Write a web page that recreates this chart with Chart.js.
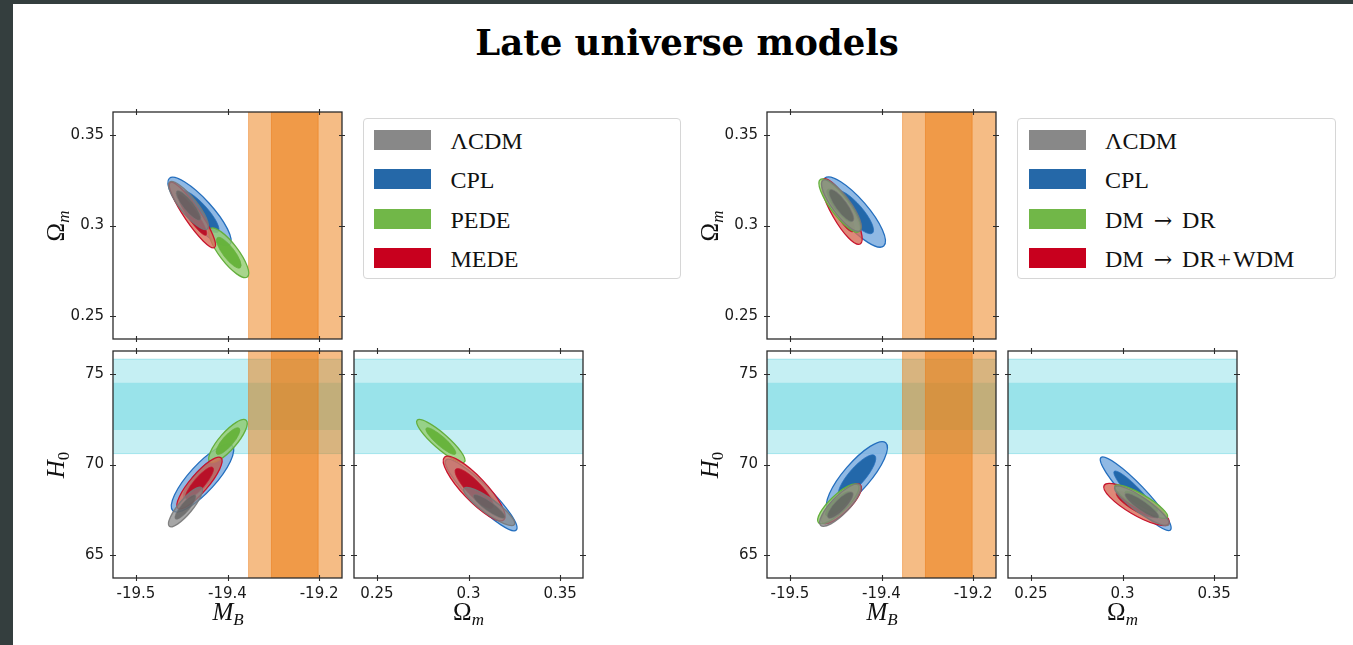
<!DOCTYPE html>
<html><head><meta charset="utf-8">
<script src="https://cdn.jsdelivr.net/npm/chart.js@4.4.1/dist/chart.umd.min.js"></script>
<style>
body{margin:0;width:1353px;height:645px;background:#343e3e;overflow:hidden;position:relative}
#page{position:absolute;left:13px;top:4px;width:1340px;height:641px;background:#fff}
canvas{position:absolute}
.t{position:absolute;white-space:nowrap;color:#111}
#title{left:687px;top:23px;transform:translateX(-50%);font:bold 35.5px 'DejaVu Serif';line-height:40px;color:#000}
.ax{font:25px 'Liberation Serif';line-height:26px;transform:translate(-50%,-50%)}
.ay{font:25px 'Liberation Serif';line-height:26px;transform:translate(-50%,-50%) rotate(-90deg)}
.ax sub,.ay sub{font-size:17px;vertical-align:-5px}
.leg{position:absolute;border:1px solid #d6d6d6;border-radius:4px;background:#fff;box-sizing:border-box}
.patch{position:absolute;width:57px;height:20px}
.lt{position:absolute;font:24px 'Liberation Serif';line-height:20px;color:#111;white-space:nowrap}
.arr{font-family:'DejaVu Serif';font-size:22px;margin:0 4px}
.pl{margin:0 2px}
</style></head><body>
<div id="page"></div>
<div id="title" class="t">Late universe models</div>
<script>
// ---------------- data ----------------
const MODELS_LEFT  = ['ΛCDM', 'CPL', 'PEDE', 'MEDE'];
const MODELS_RIGHT = ['ΛCDM', 'CPL', 'DM → DR', 'DM → DR+WDM'];

const MB_TICKS = [-19.5, -19.4, -19.3];
const MB_TICK_LABELS = ['-19.5', '-19.4', '-19.2'];
const OM_TICKS = [0.25, 0.3, 0.35];
const OM_TICK_LABELS = ['0.25', '0.3', '0.35'];
const H0_TICKS = [65, 70, 75];
const H0_TICK_LABELS = ['65', '70', '75'];

const MB_RANGE = [-19.525, -19.275];
const OM_RANGE = [0.2375, 0.3625];
const H0_RANGE = [63.75, 76.25];

// external priors (bands): 1-sigma and 2-sigma intervals
const MB_BAND_1S = [-19.352, -19.301];
const MB_BAND_2S = [-19.377, -19.25];
const H0_BAND_1S = [71.9, 74.5];
const H0_BAND_2S = [70.6, 75.8];

// contours: [meanX, meanY, sigmaX, sigmaY, correlation], one row per model (order of MODELS_*)
const LEFT_MB_OM = [
  [-19.4426, 0.3110, 0.0089, 0.0054, -0.85],
  [-19.4306, 0.3077, 0.0141, 0.0077, -0.85],
  [-19.3986, 0.2850, 0.0089, 0.0056, -0.82],
  [-19.4383, 0.3058, 0.0103, 0.0074, -0.91]
];
const LEFT_MB_H0 = [
  [-19.4459, 67.66, 0.0076, 0.447, 0.85],
  [-19.4273, 69.25, 0.0139, 0.761, 0.83],
  [-19.3995, 71.29, 0.0086, 0.485, 0.82],
  [-19.4306, 68.98, 0.0101, 0.582, 0.86]
];
const LEFT_OM_H0 = [
  [0.3113, 67.69, 0.0057, 0.430, -0.88],
  [0.3069, 68.32, 0.0080, 0.805, -0.92],
  [0.2849, 71.29, 0.0054, 0.485, -0.89],
  [0.3031, 68.68, 0.0069, 0.727, -0.86]
];
const RIGHT_MB_OM = [
  [-19.4437, 0.3110, 0.0089, 0.0058, -0.83],
  [-19.4297, 0.3074, 0.0139, 0.0079, -0.83],
  [-19.4456, 0.3110, 0.0093, 0.0060, -0.84],
  [-19.4434, 0.3077, 0.0091, 0.0074, -0.83]
];
const RIGHT_MB_H0 = [
  [-19.4450, 67.76, 0.0092, 0.477, 0.82],
  [-19.4268, 69.36, 0.0136, 0.776, 0.83],
  [-19.4472, 67.83, 0.0092, 0.447, 0.82],
  [-19.4437, 67.83, 0.0089, 0.447, 0.81]
];
const RIGHT_OM_H0 = [
  [0.3106, 67.73, 0.0061, 0.447, -0.89],
  [0.3072, 68.39, 0.0079, 0.828, -0.93],
  [0.3102, 67.96, 0.0059, 0.376, -0.88],
  [0.3076, 67.80, 0.0073, 0.474, -0.83]
];

// ---------------- styles ----------------
const MODEL_STYLE = [
  {patch:'rgb(136,136,136)', light:'rgba(133,133,133,0.72)', dark:'rgba(95,95,95,0.75)',  edge:'rgba(120,120,120,0.9)'},
  {patch:'rgb(37,104,168)',  light:'rgba(120,170,222,0.82)', dark:'rgba(30,100,168,0.95)', edge:'rgb(35,110,190)'},
  {patch:'rgb(113,183,72)',  light:'rgba(150,205,115,0.82)', dark:'rgba(100,178,55,0.92)', edge:'rgb(100,175,60)'},
  {patch:'rgb(200,0,30)',    light:'rgba(215,110,90,0.82)',  dark:'rgba(185,10,35,0.92)',  edge:'rgb(200,20,45)'}
];
const AXES = {
  MB:{range:MB_RANGE, ticks:MB_TICKS, labels:MB_TICK_LABELS},
  OM:{range:OM_RANGE, ticks:OM_TICKS, labels:OM_TICK_LABELS},
  H0:{range:H0_RANGE, ticks:H0_TICKS, labels:H0_TICK_LABELS}
};
const LEFT_ORDER = [1, 2, 3, 0];
const RIGHT_ORDER = [1, 3, 2, 0];
const PANELS = [
  {box:[113,112,342,339], x:'MB', y:'OM', data:LEFT_MB_OM, xl:false, yl:true, order:LEFT_ORDER},
  {box:[113,351,342,578], x:'MB', y:'H0', data:LEFT_MB_H0, xl:true,  yl:true, order:LEFT_ORDER},
  {box:[354,351,583,578], x:'OM', y:'H0', data:LEFT_OM_H0, xl:true,  yl:false, order:LEFT_ORDER},
  {box:[767,112,996,339], x:'MB', y:'OM', data:RIGHT_MB_OM, xl:false, yl:true, order:RIGHT_ORDER},
  {box:[767,351,996,578], x:'MB', y:'H0', data:RIGHT_MB_H0, xl:true,  yl:true, order:RIGHT_ORDER},
  {box:[1008,351,1237,578], x:'OM', y:'H0', data:RIGHT_OM_H0, xl:true, yl:false, order:RIGHT_ORDER}
];
const K95 = 2.447, K68 = 1.515;

function ellipsePath(ctx, xs, ys, p, k){
  const [mx, my, sx, sy, r] = p;
  const cx = xs.getPixelForValue(mx), cy = ys.getPixelForValue(my);
  const kx = Math.abs(xs.getPixelForValue(mx + sx) - cx) / sx;
  const ky = Math.abs(ys.getPixelForValue(my + sy) - cy) / sy;
  const a = (sx*kx)**2, c = (sy*ky)**2, b = -r*sx*sy*kx*ky;
  const th = 0.5*Math.atan2(2*b, a - c);
  const d = Math.sqrt(((a-c)/2)**2 + b*b);
  const l1 = (a+c)/2 + d, l2 = Math.max((a+c)/2 - d, 1e-6);
  ctx.beginPath();
  ctx.ellipse(cx, cy, k*Math.sqrt(l1), k*Math.sqrt(l2), th, 0, 2*Math.PI);
}

const cornerPlugin = {
  id:'corner',
  beforeDatasetsDraw(chart){
    const {ctx, chartArea:A, scales:{x, y}} = chart;
    const P = chart.options.plugins.corner;
    ctx.save();
    ctx.beginPath(); ctx.rect(A.left, A.top, A.width, A.height); ctx.clip();
    if (P.y === 'H0'){
      [H0_BAND_2S, H0_BAND_1S].forEach((b, i) => {
        const y1 = y.getPixelForValue(b[1]), y2 = y.getPixelForValue(b[0]);
        ctx.fillStyle = 'rgba(23,190,207,0.25)';
        ctx.fillRect(A.left, y1, A.width, y2 - y1);
        if (i === 0){
          ctx.strokeStyle = 'rgba(23,190,207,0.3)'; ctx.lineWidth = 1;
          ctx.beginPath(); ctx.moveTo(A.left, y1); ctx.lineTo(A.right, y1);
          ctx.moveTo(A.left, y2); ctx.lineTo(A.right, y2); ctx.stroke();
        }
      });
    }
    if (P.x === 'MB'){
      [MB_BAND_2S, MB_BAND_1S].forEach((b, i) => {
        const x1 = x.getPixelForValue(b[0]), x2 = x.getPixelForValue(b[1]);
        ctx.fillStyle = 'rgba(236,122,12,0.5)';
        ctx.fillRect(x1, A.top, x2 - x1, A.height);
        ctx.strokeStyle = 'rgba(236,115,10,0.45)'; ctx.lineWidth = 1;
        ctx.beginPath(); ctx.moveTo(x1, A.top); ctx.lineTo(x1, A.bottom);
        ctx.moveTo(x2, A.top); ctx.lineTo(x2, A.bottom); ctx.stroke();
      });
    }
    P.order.forEach(m => {
      const p = P.data[m], st = MODEL_STYLE[m];
      ellipsePath(ctx, x, y, p, K95);
      ctx.fillStyle = st.light; ctx.fill();
      ctx.strokeStyle = st.edge; ctx.lineWidth = 1.3; ctx.stroke();
      ellipsePath(ctx, x, y, p, K68);
      ctx.fillStyle = st.dark; ctx.fill();
      ctx.lineWidth = 0.7; ctx.stroke();
    });
    ctx.restore();
  },
  afterDraw(chart){
    const {ctx, chartArea:A, scales:{x, y}} = chart;
    ctx.save();
    ctx.strokeStyle = '#2b2b2b'; ctx.lineWidth = 1.3;
    ctx.strokeRect(A.left, A.top, A.width, A.height);
    ctx.lineWidth = 1.1;
    ctx.beginPath();
    x.ticks.forEach(t => {
      const px = Math.round(x.getPixelForValue(t.value)) + 0.5;
      ctx.moveTo(px, A.top - 3); ctx.lineTo(px, A.top + 3);
      ctx.moveTo(px, A.bottom - 3); ctx.lineTo(px, A.bottom + 3);
    });
    y.ticks.forEach(t => {
      const py = Math.round(y.getPixelForValue(t.value)) + 0.5;
      ctx.moveTo(A.left - 3, py); ctx.lineTo(A.left + 3, py);
      ctx.moveTo(A.right - 3, py); ctx.lineTo(A.right + 3, py);
    });
    ctx.stroke();
    ctx.restore();
  }
};

function axisOpts(key, show, isY){
  const ax = AXES[key];
  return {
    type:'linear', min:ax.range[0], max:ax.range[1],
    grid:{display:false, drawTicks:false}, border:{display:false},
    afterBuildTicks: s => { s.ticks = ax.ticks.map(v => ({value:v})); },
    afterFit: s => {
      if (isY) s.width = 70; else s.height = 35;
      s.paddingTop = 0; s.paddingBottom = 0; s.paddingLeft = 0; s.paddingRight = 0;
    },
    ticks:{display:show, autoSkip:false, maxRotation:0, minRotation:0,
      padding: isY ? 9 : 7, color:'#1a1a1a', font:{family:'DejaVu Sans', size:15},
      callback:(v, i) => ax.labels[i]}
  };
}

PANELS.forEach(P => {
  const [L, T, R, B] = P.box;
  const cv = document.createElement('canvas');
  cv.width = (R - L) + 80; cv.height = (B - T) + 45;
  cv.style.left = (L - 70) + 'px'; cv.style.top = (T - 10) + 'px';
  document.body.appendChild(cv);
  new Chart(cv, {
    type:'scatter',
    data:{datasets: P.data.map(p => ({data:[{x:p[0], y:p[1]}], pointRadius:0, showLine:false}))},
    options:{
      responsive:false, animation:false, devicePixelRatio:1,
      layout:{padding:{top:10, right:10, left:0, bottom:0}},
      scales:{x:axisOpts(P.x, P.xl, false), y:axisOpts(P.y, P.yl, true)},
      plugins:{legend:{display:false}, tooltip:{enabled:false},
        corner:{x:P.x, y:P.y, data:P.data, order:P.order}}
    },
    plugins:[cornerPlugin]
  });
});

function addText(cls, html, x, y){
  const d = document.createElement('div');
  d.className = 't ' + cls; d.innerHTML = html;
  d.style.left = x + 'px'; d.style.top = y + 'px';
  document.body.appendChild(d);
}
[0, 654].forEach(off => {
  addText('ax', '<i>M</i><sub><i>B</i></sub>', 228 + off, 616);
  addText('ax', 'Ω<sub><i>m</i></sub>', 468.5 + off, 616);
  addText('ay', 'Ω<sub><i>m</i></sub>', 60 + off, 225.5);
  addText('ay', '<i>H</i><sub>0</sub>', 60 + off, 464.5);
});
function addLegend(models, left){
  const box = document.createElement('div');
  box.className = 'leg';
  box.style.left = left + 'px'; box.style.top = '117.5px';
  box.style.width = '318.5px'; box.style.height = '161px';
  models.forEach((name, i) => {
    const top = 11.5 + i*39.3;
    const p = document.createElement('div');
    p.className = 'patch'; p.style.left = '10.5px'; p.style.top = top + 'px';
    p.style.background = MODEL_STYLE[i].patch;
    box.appendChild(p);
    const t = document.createElement('div');
    t.className = 'lt';
    t.innerHTML = name.replace('→', '<span class="arr">→</span>').replace('+', '<span class="pl">+</span>');
    t.style.left = '87px'; t.style.top = (top + 1) + 'px';
    box.appendChild(t);
  });
  document.body.appendChild(box);
}
addLegend(MODELS_LEFT, 362.5);
addLegend(MODELS_RIGHT, 1017);
</script>
</body></html>
